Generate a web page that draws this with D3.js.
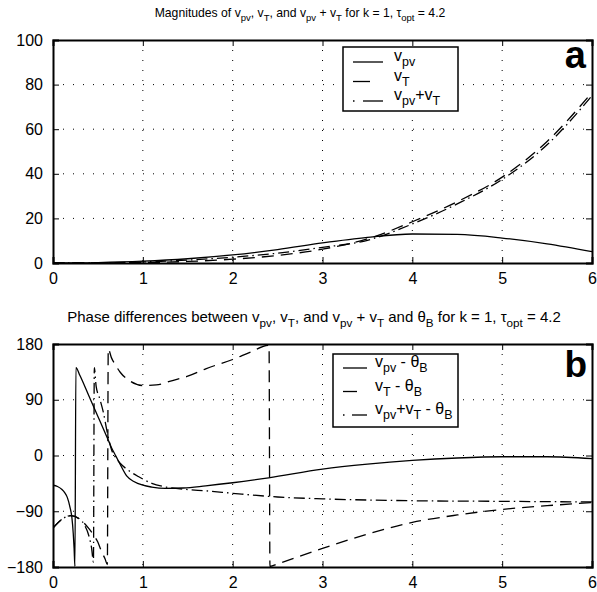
<!DOCTYPE html>
<html>
<head>
<meta charset="utf-8">
<script src="https://cdn.jsdelivr.net/npm/d3@7"></script>
<style>
  body { margin: 0; background: #fff; }
  svg { font-family: "Liberation Sans", Arial, Helvetica, sans-serif; }
</style>
</head>
<body>
<script>
// ---- data ----
// panel a: magnitudes
var magX  = [0, 0.5, 1, 1.5, 2, 2.5, 3, 3.5, 4, 4.5, 5, 5.5, 6];
var vpv   = [0, 0.2, 0.8, 1.9, 3.6, 6.0, 9.0, 11.5, 13.0, 12.8, 11.2, 8.6, 5.1];
var vT    = [0, 0.02, 0.2, 0.7, 1.7, 3.4, 6.2, 10.8, 18.5, 27.5, 38.5, 54.5, 76.5];
var vSum  = [0, 0.1, 0.5, 1.3, 2.6, 4.4, 7.0, 10.2, 17.5, 26.5, 37.5, 53, 75];
var magYTicks = [0, 20, 40, 60, 80, 100];

// panel b: phase differences (degrees)
var phPvX = [0, 0.05, 0.1, 0.13, 0.16, 0.19, 0.21, 0.225, 0.235, 0.244, 0.255, 0.3, 0.4, 0.5, 0.6, 0.65, 0.7, 0.75, 0.82, 0.9, 1.0, 1.1, 1.25, 1.45, 1.7, 2.0, 2.4, 3.0, 3.5, 4.0, 4.5, 5.0, 5.5, 6.0];
var phPv  = [-48, -50, -55, -60, -68, -84, -100, -125, -150, -179, 142, 129, 96, 63, 30, 13, -1, -15, -33, -42, -48, -51, -53, -52.5, -49, -44, -36, -22, -14, -8, -4, -2, -2, -5];

var phTX  = [0, 0.1, 0.2, 0.3, 0.4, 0.46, 0.5, 0.54, 0.58, 0.605, 0.615, 0.65, 0.7, 0.75, 0.85, 1.0, 1.15, 1.33, 1.5, 1.7, 2.0, 2.2, 2.405, 2.415, 2.5, 3.0, 3.5, 4.0, 4.5, 5.0, 5.5, 6.0];
var phT   = [-117, -103, -97, -103, -118, -130, -140, -155, -167, -176, 172, 158, 145, 134, 121, 113, 114, 121, 128, 140, 155, 167, 178, -179, -175, -150, -127, -108, -96, -87, -81, -76];

var phSumX = [0, 0.1, 0.2, 0.3, 0.35, 0.4, 0.43, 0.45, 0.46, 0.48, 0.52, 0.56, 0.6, 0.65, 0.7, 0.75, 0.85, 0.95, 1.0, 1.1, 1.26, 1.5, 1.7, 2.0, 2.5, 3.0, 4.0, 5.0, 6.0];
var phSum  = [-117, -103, -97, -103, -112, -130, -150, -172, 142, 112, 92, 70, 40, 10, -4, -13, -25, -34, -38, -45, -51, -55, -57, -61, -67, -70, -73, -74, -75];
var phYTicks = [-180, -90, 0, 90, 180];

var xTicks = [0, 1, 2, 3, 4, 5, 6];

// ---- layout ----
var W = 597, H = 592;
var par = {
  left: 53, right: 592,
  a_top: 40, a_bottom: 263,
  b_top: 344, b_bottom: 567,
  tick_len: 6,
  tick_font: 16,
  dash: "12,7",
  dashdot: "11,4,1.5,4"
};

var svg = d3.select("body").append("svg")
  .attr("width", W).attr("height", H);

// helper: text made of [string, isSub] parts
var put_text = function(g, x, y, parts, size, anchor) {
  var t = g.append("text")
    .attr("x", x).attr("y", y)
    .attr("font-size", size)
    .attr("text-anchor", anchor || "start");
  var down = false;
  parts.forEach(function(p) {
    var sp = t.append("tspan").text(p[0]);
    if (p[1] && !down) { sp.attr("dy", size * 0.32).attr("font-size", size * 0.78); down = true; }
    else if (p[1]) { sp.attr("font-size", size * 0.78); }
    else if (down) { sp.attr("dy", -size * 0.32); down = false; }
  });
  return t;
};

var draw_panel = function(id, top, bottom, yDomain, yTicks, series) {
  var x = d3.scaleLinear().domain([0, 6]).range([par.left, par.right]);
  var y = d3.scaleLinear().domain(yDomain).range([bottom, top]);
  var g = svg.append("g");

  g.append("clipPath").attr("id", "clip" + id)
    .append("rect").attr("x", par.left).attr("y", top)
    .attr("width", par.right - par.left).attr("height", bottom - top);

  // dotted grid
  xTicks.slice(1, -1).forEach(function(t) {
    g.append("line").attr("x1", x(t)).attr("x2", x(t)).attr("y1", top).attr("y2", bottom)
      .attr("stroke", "#000").attr("stroke-width", 1).attr("stroke-dasharray", "1,9");
  });
  yTicks.slice(1, -1).forEach(function(t) {
    g.append("line").attr("x1", par.left).attr("x2", par.right).attr("y1", y(t)).attr("y2", y(t))
      .attr("stroke", "#000").attr("stroke-width", 1).attr("stroke-dasharray", "1,9");
  });

  // curves
  series.forEach(function(s) {
    var pts = s.xs.map(function(d, i) { return [d, s.ys[i]]; });
    var line = d3.line().x(function(d) { return x(d[0]); }).y(function(d) { return y(d[1]); })
      .curve(d3.curveMonotoneX);
    g.append("path").datum(pts).attr("d", line)
      .attr("clip-path", "url(#clip" + id + ")")
      .attr("fill", "none").attr("stroke", "#000").attr("stroke-width", 1.3)
      .attr("stroke-dasharray", s.dash || null);
  });

  // axes, ticks inside on all four sides
  var bAxis = d3.axisBottom(x).tickValues(xTicks).tickSize(-par.tick_len).tickPadding(10).tickFormat(d3.format("d"));
  var tAxis = d3.axisTop(x).tickValues(xTicks).tickSize(-par.tick_len).tickFormat("");
  var lAxis = d3.axisLeft(y).tickValues(yTicks).tickSize(-par.tick_len).tickPadding(10).tickFormat(d3.format("d"));
  var rAxis = d3.axisRight(y).tickValues(yTicks).tickSize(-par.tick_len).tickFormat("");
  [[bAxis, 0, bottom], [tAxis, 0, top], [lAxis, par.left, 0], [rAxis, par.right, 0]].forEach(function(a) {
    var ag = g.append("g").attr("transform", "translate(" + a[1] + "," + a[2] + ")").call(a[0]);
    ag.select(".domain").attr("stroke-width", 2);
    ag.selectAll(".tick line").attr("stroke-width", 1);
    ag.selectAll("text").attr("font-size", par.tick_font).attr("fill", "#000");
    ag.attr("font-family", null);
  });
  return { x: x, y: y, g: g };
};

// ---- panel a ----
var pa = draw_panel("a", par.a_top, par.a_bottom, [0, 100], magYTicks, [
  { xs: magX, ys: vpv },
  { xs: magX, ys: vT, dash: par.dash },
  { xs: magX, ys: vSum, dash: par.dashdot }
]);

// ---- panel b ----
var pb = draw_panel("b", par.b_top, par.b_bottom, [-180, 180], phYTicks, [
  { xs: phPvX, ys: phPv },
  { xs: phTX, ys: phT, dash: par.dash },
  { xs: phSumX, ys: phSum, dash: par.dashdot }
]);

// titles
put_text(svg, 300, 17, [["Magnitudes of v"], ["pv", 1], [", v"], ["T", 1], [", and v"], ["pv", 1], [" + v"], ["T", 1],
  [" for k = 1, \u03c4"], ["opt", 1], [" = 4.2"]], 12.2, "middle");
put_text(svg, 314, 322, [["Phase differences between v"], ["pv", 1], [", v"], ["T", 1], [", and v"], ["pv", 1], [" + v"], ["T", 1],
  [" and \u03b8"], ["B", 1], [" for k = 1, \u03c4"], ["opt", 1], [" = 4.2"]], 15, "middle");

// panel letters
svg.append("text").attr("x", 586).attr("y", 68).attr("text-anchor", "end")
  .attr("font-size", 38).attr("font-weight", "bold").text("a");
svg.append("text").attr("x", 587).attr("y", 377).attr("text-anchor", "end")
  .attr("font-size", 37).attr("font-weight", "bold").text("b");

// legends
var place_legend = function(bx, by, bw, bh, rows, step, first, textX, fontSize) {
  var g = svg.append("g");
  g.append("rect").attr("x", bx).attr("y", by).attr("width", bw).attr("height", bh)
    .attr("fill", "#fff").attr("stroke", "#000").attr("stroke-width", 1.5);
  rows.forEach(function(r, i) {
    var yy = by + first + i * step;
    r.segs.forEach(function(s) {
      g.append("line").attr("x1", bx + s[0]).attr("x2", bx + s[1]).attr("y1", yy).attr("y2", yy)
        .attr("stroke", "#000").attr("stroke-width", 1.3);
    });
    put_text(g, bx + textX, yy - 1, r.label, fontSize, "start");
  });
};

place_legend(343, 47, 115, 64, [
  { segs: [[10, 40]], label: [["v"], ["pv", 1]] },
  { segs: [[10, 27]], label: [["v"], ["T", 1]] },
  { segs: [[10, 11.5], [20, 40]], label: [["v"], ["pv", 1], ["+v"], ["T", 1]] }
], 19.5, 15, 51, 16);

place_legend(333, 354, 125, 73, [
  { segs: [[10, 34]], label: [["v"], ["pv", 1], [" - \u03b8"], ["B", 1]] },
  { segs: [[10, 24]], label: [["v"], ["T", 1], [" - \u03b8"], ["B", 1]] },
  { segs: [[10, 11.5], [19, 34]], label: [["v"], ["pv", 1], ["+v"], ["T", 1], [" - \u03b8"], ["B", 1]] }
], 23.5, 14, 42, 16);
</script>
</body>
</html>
